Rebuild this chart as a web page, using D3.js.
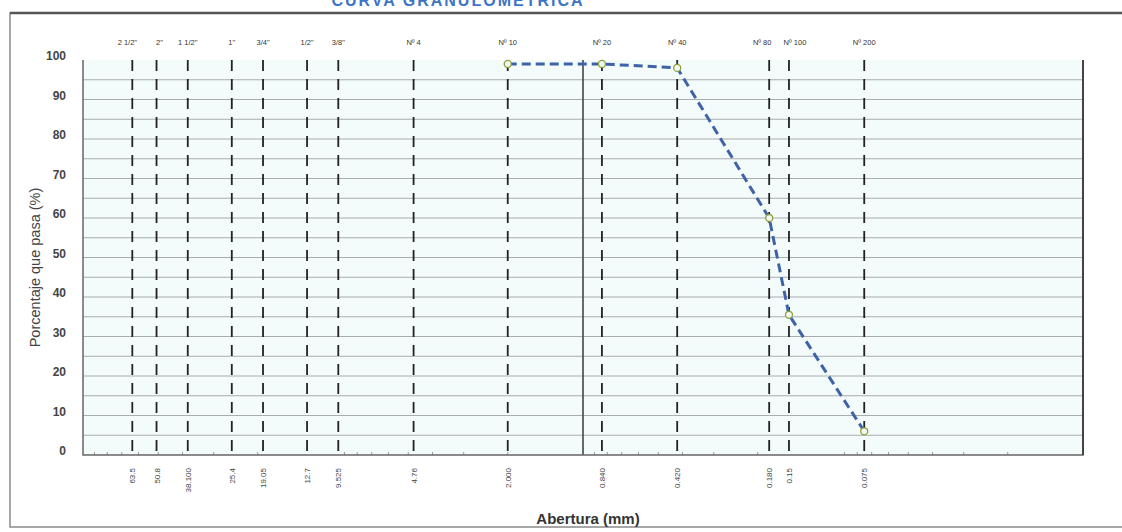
<!DOCTYPE html>
<html>
<head>
<meta charset="utf-8">
<script src="https://cdn.jsdelivr.net/npm/d3@7"></script>
<style>
  body { margin: 0; background: #fff; }
  svg { display: block; font-family: "Liberation Sans", Arial, sans-serif; }
</style>
</head>
<body>
<div id="chart"></div>
<script>
// Sieve openings (mm) and their names
const sieveSizes = [63.5, 50.8, 38.1, 25.4, 19.05, 12.7, 9.525, 4.76, 2.0, 0.84, 0.42, 0.18, 0.15, 0.075];
const sieveNames = ["2 1/2\"", "2\"", "1 1/2\"", "1\"", "3/4\"", "1/2\"", "3/8\"", "Nº 4", "Nº 10", "Nº 20", "Nº 40", "Nº 80", "Nº 100", "Nº 200"];
const sieveLabels = ["63.5", "50.8", "38.100", "25.4", "19.05", "12.7", "9.525", "4.76", "2.000", "0.840", "0.420", "0.180", "0.15", "0.075"];

// Measured curve (% passing)
const curveSizes = [2.0, 0.84, 0.42, 0.18, 0.15, 0.075];
const curvePassing = [99, 99, 98, 60, 35.5, 6];

const yTicks = [0, 10, 20, 30, 40, 50, 60, 70, 80, 90, 100];

const width = 1122, height = 532;
const margin = { top: 60, right: 39, bottom: 77, left: 83 };

const svg = d3.select("#chart").append("svg")
  .attr("width", width)
  .attr("height", height);

// outer frame
svg.append("rect")
  .attr("x", 10).attr("y", 13)
  .attr("width", 1130).attr("height", 514)
  .attr("fill", "none").attr("stroke", "#8a8a8a").attr("stroke-width", 1.5);
svg.append("line")
  .attr("x1", 10).attr("x2", width).attr("y1", 13).attr("y2", 13)
  .attr("stroke", "#555").attr("stroke-width", 2.5);

// title, partly outside the page top as in the scan
svg.append("text")
  .attr("x", 458).attr("y", 6)
  .attr("text-anchor", "middle")
  .style("font-size", "16px").style("font-weight", "bold")
  .style("letter-spacing", "2px")
  .style("fill", "#3d74c8")
  .text("CURVA GRANULOMETRICA");

const x = d3.scaleLog().domain([100, 0.01]).range([margin.left, width - margin.right]);
const y = d3.scaleLinear().domain([0, 100]).range([height - margin.bottom, margin.top]);

// plot background
svg.append("rect")
  .attr("x", x(100)).attr("y", y(100))
  .attr("width", x(0.01) - x(100)).attr("height", y(0) - y(100))
  .attr("fill", "#f3fbfb");

// horizontal grid every 5%
svg.append("g")
  .selectAll("line")
  .data(d3.range(5, 100, 5))
  .join("line")
  .attr("x1", x(100)).attr("x2", x(0.01))
  .attr("y1", d => y(d)).attr("y2", d => y(d))
  .attr("stroke", "#a9adad").attr("stroke-width", 1);

// minor log ticks at the bottom
const minor = [];
[10, 1, 0.1, 0.01].forEach(dec => { for (let k = 2; k <= 9; k++) minor.push(dec * k); });
svg.append("g")
  .selectAll("line")
  .data(minor)
  .join("line")
  .attr("x1", d => x(d)).attr("x2", d => x(d))
  .attr("y1", y(0)).attr("y2", y(0) - 3)
  .attr("stroke", "#999").attr("stroke-width", 1);

// 1 mm divider
svg.append("line")
  .attr("x1", x(1)).attr("x2", x(1))
  .attr("y1", y(100)).attr("y2", y(0))
  .attr("stroke", "#444").attr("stroke-width", 1.6);

// sieve lines
svg.append("g")
  .selectAll("line")
  .data(sieveSizes)
  .join("line")
  .attr("x1", d => x(d)).attr("x2", d => x(d))
  .attr("y1", y(100)).attr("y2", y(0))
  .attr("stroke", "#222").attr("stroke-width", 1.8)
  .attr("stroke-dasharray", "11,8");

// plot border (left, bottom, right)
svg.append("path")
  .attr("d", `M${x(100)},${y(100)}V${y(0)}H${x(0.01)}V${y(100)}`)
  .attr("fill", "none").attr("stroke", "#666").attr("stroke-width", 1.5);
svg.append("line")
  .attr("x1", x(0.01)).attr("x2", x(0.01))
  .attr("y1", y(100)).attr("y2", y(0))
  .attr("stroke", "#444").attr("stroke-width", 2);

// y axis labels
svg.append("g")
  .selectAll("text")
  .data(yTicks)
  .join("text")
  .attr("x", 66).attr("y", d => y(d) - 3)
  .attr("text-anchor", "end")
  .attr("dominant-baseline", "middle")
  .style("font-size", "12px").style("font-weight", "bold")
  .style("fill", "#444")
  .text(d => d);

// sieve names on top (small nudges where names crowd)
const nameShift = { 0: -5, 1: 3, 11: -7, 12: 6 };
svg.append("g")
  .selectAll("text")
  .data(sieveSizes)
  .join("text")
  .attr("x", (d, i) => x(d) + (nameShift[i] || 0))
  .attr("y", 45)
  .attr("text-anchor", "middle")
  .style("font-size", "7.5px")
  .style("fill", "#333")
  .text((d, i) => sieveNames[i]);

// openings below, rotated
svg.append("g")
  .selectAll("text")
  .data(sieveSizes)
  .join("text")
  .attr("transform", d => `translate(${x(d) + 3},468) rotate(-90)`)
  .attr("text-anchor", "end")
  .style("font-size", "8px")
  .style("fill", "#444")
  .text((d, i) => sieveLabels[i]);

// axis titles
svg.append("text")
  .attr("x", 588).attr("y", 524)
  .attr("text-anchor", "middle")
  .style("font-size", "15px").style("font-weight", "bold")
  .style("fill", "#333")
  .text("Abertura (mm)");

svg.append("text")
  .attr("transform", `translate(40,${(y(0) + y(100)) / 2 + 10}) rotate(-90)`)
  .attr("text-anchor", "middle")
  .style("font-size", "14.5px")
  .style("fill", "#444")
  .text("Porcentaje que pasa (%)");

// curve
const pts = curveSizes.map((d, i) => [d, curvePassing[i]]);
svg.append("path")
  .datum(pts)
  .attr("d", d3.line().x(d => x(d[0])).y(d => y(d[1])))
  .attr("fill", "none")
  .attr("stroke", "#3f63a8").attr("stroke-width", 3)
  .attr("stroke-dasharray", "9,5");

svg.append("g")
  .selectAll("circle")
  .data(pts)
  .join("circle")
  .attr("cx", d => x(d[0])).attr("cy", d => y(d[1]))
  .attr("r", 3.5)
  .attr("fill", "#f4f8ec")
  .attr("stroke", "#8a9f3c").attr("stroke-width", 1.3);
</script>
</body>
</html>
